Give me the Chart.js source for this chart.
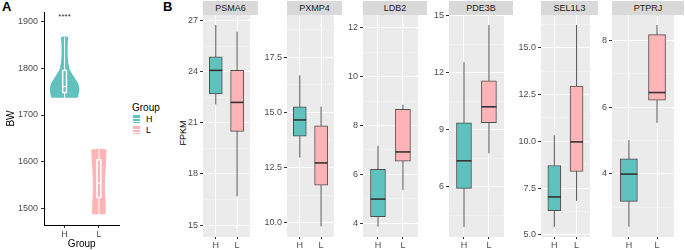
<!DOCTYPE html>
<html>
<head>
<meta charset="utf-8">
<script src="https://cdn.jsdelivr.net/npm/chart.js@4.4.0/dist/chart.umd.min.js"></script>
<style>
  body { margin: 0; width: 685px; height: 250px; position: relative; overflow: hidden; background: #fff;
         font-family: "Liberation Sans", Arial, sans-serif; }
  .abs { position: absolute; }
  .tag { font-weight: bold; font-size: 13px; line-height: 13px; color: #000; }
  .strip { background: #D9D9D9; color: #1A1A1A; font-size: 9px; text-align: center; line-height: 14px; top: 1px; height: 14px; }
</style>
</head>
<body>
<div class="abs tag" style="left:2px;top:0px;">A</div>
<div class="abs tag" style="left:163px;top:0px;">B</div>
<div class="abs" style="left:183px;top:133px;font-size:9px;color:#000;transform:translate(-50%,-50%) rotate(-90deg);">FPKM</div>

<!-- legend of panel A -->
<div class="abs" style="left:132px;top:102px;font-size:10px;line-height:12px;color:#000;">Group</div>
<div class="abs" id="keyH" style="left:133px;top:115px;width:7px;height:8px;"></div>
<div class="abs" style="left:146px;top:114px;font-size:9px;line-height:10px;color:#000;">H</div>
<div class="abs" id="keyL" style="left:133px;top:126px;width:7px;height:8px;"></div>
<div class="abs" style="left:146px;top:124.5px;font-size:9px;line-height:10px;color:#000;">L</div>

<canvas id="chartA" class="abs" style="left:0;top:0;" width="123" height="250"></canvas>

<script>
const groups = ["H", "L"];
const groupColors = ["#60C2BE", "#FFB5B8"];

// panel A : body weight violins
const bwTicks = [1500, 1600, 1700, 1800, 1900];
const violinH_y = [1737, 1740, 1745, 1752, 1760, 1768, 1775, 1783, 1790, 1797, 1805, 1815, 1830, 1845, 1855, 1867];
const violinH_w = [0.383, 0.40, 0.41, 0.425, 0.42, 0.39, 0.333, 0.264, 0.208, 0.153, 0.125, 0.105, 0.089, 0.089, 0.094, 0.097];
const violinL_y = [1487, 1495, 1510, 1530, 1555, 1580, 1600, 1615, 1626];
const violinL_w = [0.194, 0.20, 0.195, 0.18, 0.175, 0.19, 0.21, 0.215, 0.21];
const bwLo = [1737, 1487];
const bwQ1 = [1747, 1522];
const bwMed = [1761, 1554];
const bwQ3 = [1797, 1605];
const bwHi = [1867, 1626];
const sigText = "****";
const sigY = 1911;

// panel B : FPKM boxplots
const genes = ["PSMA6", "PXMP4", "LDB2", "PDE3B", "SEL1L3", "PTPRJ"];
const whiskerLo = [[22.08, 16.69], [12.95, 9.83], [3.86, 5.36], [3.89, 7.76], [5.43, 6.82], [2.41, 5.53]];
const boxQ1 = [[22.7, 20.5], [13.92, 11.7], [4.27, 6.54], [5.92, 9.37], [6.3, 8.39], [3.17, 6.21]];
const boxMed = [[24.08, 22.2], [14.66, 12.71], [4.99, 6.92], [7.37, 10.21], [7.03, 9.97], [3.99, 6.44]];
const boxQ3 = [[24.88, 24.08], [15.26, 14.39], [6.21, 8.66], [9.37, 11.58], [8.71, 12.95], [4.45, 8.18]];
const whiskerHi = [[26.75, 26.35], [16.68, 15.26], [7.17, 8.85], [12.56, 14.51], [10.33, 16.21], [5.01, 8.47]];
const outliers = [[[], [14.9]], [[17.9], [18.98]], [[], [12.12]], [[], []], [[], []], [[6.94], []]];
const yMin = [14.3, 9.35, 3.44, 3.36, 4.89, 2.1];
const yMax = [27.33, 19.42, 12.52, 15.04, 16.75, 8.77];
const yMajor = [[15, 18, 21, 24, 27], [10, 12.5, 15, 17.5], [4, 6, 8, 10, 12], [6, 9, 12, 15], [5, 7.5, 10, 12.5, 15], [4, 6, 8]];
const yTickLabels = [["15", "18", "21", "24", "27"], ["10.0", "12.5", "15.0", "17.5"], ["4", "6", "8", "10", "12"],
                     ["6", "9", "12", "15"], ["5.0", "7.5", "10.0", "12.5", "15.0"], ["4", "6", "8"]];
const yMinor = [[16.5, 19.5, 22.5, 25.5], [11.25, 13.75, 16.25, 18.75], [5, 7, 9, 11], [4.5, 7.5, 10.5, 13.5],
                [6.25, 8.75, 11.25, 13.75, 16.25], [3, 5, 7]];

// layout of the facets (pixels)
const panelLeft = [203, 287, 363, 449, 541, 612];
const panelWidth = [55, 55, 64, 64, 57, 72];

Chart.defaults.font.family = "'Liberation Sans', Arial, sans-serif";
Chart.defaults.animation = false;

document.getElementById("keyH").style.background =
  "linear-gradient(#60C2BE 0 3px, #fff 3px 4px, #60C2BE 4px 6px, #fff 6px 7px, #60C2BE 7px)";
document.getElementById("keyL").style.background =
  "linear-gradient(#FFB5B8 0 3px, #fff 3px 4px, #FFB5B8 4px 6px, #fff 6px 7px, #FFB5B8 7px)";

const panelBg = {
  id: "panelBg",
  beforeDraw(chart, args, opts) {
    if (!opts.color) return;
    const { ctx, chartArea: a } = chart;
    ctx.save();
    ctx.fillStyle = opts.color;
    ctx.fillRect(a.left, a.top, a.right - a.left, a.bottom - a.top);
    ctx.restore();
  },
};

const sigMark = {
  id: "sigMark",
  afterDatasetsDraw(chart) {
    const { ctx, scales } = chart;
    ctx.save();
    ctx.fillStyle = "#333";
    ctx.font = "8px 'Liberation Sans', Arial, sans-serif";
    ctx.textAlign = "center";
    ctx.textBaseline = "middle";
    ctx.fillText(sigText, scales.x.getPixelForValue(1), scales.y.getPixelForValue(sigY));
    ctx.restore();
  },
};

function violinPoints(cx, ys, ws) {
  const right = ys.map((y, k) => ({ x: cx + ws[k], y: y }));
  const left = ys.map((y, k) => ({ x: cx - ws[k], y: y })).reverse();
  return right.concat(left);
}

function whiskerPoints(lo, q1, q3, hi, split) {
  const pts = [];
  for (let g = 0; g < 2; g++) {
    pts.push({ x: g + 1, y: lo[g] }, { x: g + 1, y: split ? q1[g] : hi[g] });
    if (split) pts.push({ x: g + 1, y: null }, { x: g + 1, y: q3[g] }, { x: g + 1, y: hi[g] });
    pts.push({ x: 1.5, y: null });
  }
  return pts;
}

// ---------- panel A ----------
new Chart(document.getElementById("chartA"), {
  type: "bar",
  data: {
    datasets: [
      { type: "line", data: violinPoints(1, violinH_y, violinH_w), fill: "shape", backgroundColor: groupColors[0],
        borderColor: "rgba(0,0,0,0)", pointRadius: 0, tension: 0.25, order: 6 },
      { type: "line", data: violinPoints(2, violinL_y, violinL_w), fill: "shape", backgroundColor: groupColors[1],
        borderColor: "rgba(0,0,0,0)", pointRadius: 0, tension: 0.25, order: 6 },
      { type: "line", data: whiskerPoints(bwLo, bwQ1, bwQ3, bwHi, true), borderColor: "#fff", borderWidth: 1,
        pointRadius: 0, spanGaps: false, fill: false, order: 4 },
      { type: "bar", data: groups.map((g, k) => ({ x: k + 1, y: [bwQ1[k], bwQ3[k]] })), backgroundColor: "rgba(0,0,0,0)",
        borderColor: "#fff", borderWidth: 1, borderSkipped: false, barThickness: 5, order: 3 },
      { type: "scatter", data: groups.map((g, k) => ({ x: k + 1, y: bwMed[k] })), pointStyle: "line", pointRadius: 2.5,
        pointHoverRadius: 2.5, pointBorderColor: "#fff", pointBorderWidth: 1, order: 2 },
    ],
  },
  options: {
    responsive: false,
    devicePixelRatio: 1,
    layout: { padding: { top: 12, right: 0, left: 0, bottom: 0 } },
    plugins: { legend: { display: false }, tooltip: { enabled: false }, panelBg: { color: null } },
    scales: {
      x: {
        type: "linear", min: 0.4, max: 2.6, offset: false,
        afterBuildTicks: (s) => { s.ticks = [{ value: 1 }, { value: 2 }]; },
        afterFit: (s) => { s.height = 25; },
        ticks: { autoSkip: false, padding: 1, color: "#4D4D4D", font: { size: 9 }, callback: (v) => groups[v - 1] || "" },
        grid: { offset: false, drawOnChartArea: false, tickLength: 3, tickColor: "#333" },
        border: { display: true, color: "#000", width: 1 },
        title: { display: true, text: "Group", color: "#000", font: { size: 10 }, padding: { top: 0, bottom: 0 } },
      },
      y: {
        type: "linear", min: 1464, max: 1921,
        afterBuildTicks: (s) => { s.ticks = bwTicks.map((v) => ({ value: v })); },
        afterFit: (s) => { s.width = 44; },
        ticks: { autoSkip: false, padding: 3, color: "#4D4D4D", font: { size: 9 }, callback: (v) => String(v) },
        grid: { drawOnChartArea: false, tickLength: 3, tickColor: "#333" },
        border: { display: true, color: "#000", width: 1 },
        title: { display: true, text: "BW", color: "#000", font: { size: 10 }, padding: { top: 5, bottom: 0 } },
      },
    },
  },
  plugins: [panelBg, sigMark],
});

// ---------- panel B ----------
function makeFacet(i) {
  const axisW = 40;
  const cv = document.createElement("canvas");
  cv.className = "abs";
  cv.style.left = (panelLeft[i] - axisW) + "px";
  cv.style.top = "0px";
  cv.width = axisW + panelWidth[i];
  cv.height = 250;
  document.body.appendChild(cv);

  const strip = document.createElement("div");
  strip.className = "abs strip";
  strip.style.left = panelLeft[i] + "px";
  strip.style.width = panelWidth[i] + "px";
  strip.textContent = genes[i];
  document.body.appendChild(strip);

  const boxPx = Math.round(panelWidth[i] / 2.2 * 0.52);
  const isMajor = (c) => c.tick && yMajor[i].includes(c.tick.value);
  const outPts = [];
  outliers[i].forEach((vals, g) => vals.forEach((v) => outPts.push({ x: g + 1, y: v })));

  new Chart(cv, {
    type: "bar",
    data: {
      datasets: [
        { type: "line", data: whiskerPoints(whiskerLo[i], boxQ1[i], boxQ3[i], whiskerHi[i], false), borderColor: "#555",
          borderWidth: 1, pointRadius: 0, spanGaps: false, fill: false, order: 4 },
        { type: "bar", data: groups.map((g, k) => ({ x: k + 1, y: [boxQ1[i][k], boxQ3[i][k]] })), backgroundColor: groupColors,
          borderColor: "#4D4D4D", borderWidth: 1, borderSkipped: false, barThickness: boxPx, order: 3 },
        { type: "scatter", data: groups.map((g, k) => ({ x: k + 1, y: boxMed[i][k] })), pointStyle: "line",
          pointRadius: boxPx / 2, pointHoverRadius: boxPx / 2, pointBorderColor: "#333", pointBorderWidth: 1.6, order: 2 },
        { type: "scatter", data: outPts, pointRadius: 1.3, pointBackgroundColor: "#fff", pointBorderWidth: 0,
          pointBorderColor: "rgba(0,0,0,0)", order: 1 },
      ],
    },
    options: {
      responsive: false,
      devicePixelRatio: 1,
      layout: { padding: { top: 15, right: 0, left: 0, bottom: 0 } },
      plugins: { legend: { display: false }, tooltip: { enabled: false }, panelBg: { color: "#EBEBEB" } },
      scales: {
        x: {
          type: "linear", min: 0.4, max: 2.6, offset: false,
          afterBuildTicks: (s) => { s.ticks = [{ value: 1 }, { value: 2 }]; },
          afterFit: (s) => { s.height = 13; },
          ticks: { autoSkip: false, padding: 1, color: "#4D4D4D", font: { size: 9 }, callback: (v) => groups[v - 1] || "" },
          grid: { offset: false, color: "#fff", lineWidth: 1, tickLength: 2, tickColor: "#333" },
          border: { display: false },
        },
        y: {
          type: "linear", min: yMin[i], max: yMax[i],
          afterBuildTicks: (s) => {
            s.ticks = yMajor[i].concat(yMinor[i]).sort((a, b) => a - b).map((v) => ({ value: v }));
          },
          afterFit: (s) => { s.width = axisW; },
          ticks: {
            autoSkip: false, padding: 2, color: "#4D4D4D", font: { size: 9 },
            callback: (v) => { const k = yMajor[i].indexOf(v); return k < 0 ? "" : yTickLabels[i][k]; },
          },
          grid: {
            color: (c) => (isMajor(c) ? "#fff" : "rgba(255,255,255,0.55)"),
            lineWidth: (c) => (isMajor(c) ? 1 : 0.6),
            tickLength: 3,
            tickColor: (c) => (isMajor(c) ? "#333" : "rgba(0,0,0,0)"),
          },
          border: { display: false },
        },
      },
    },
    plugins: [panelBg],
  });
}

genes.forEach((g, i) => makeFacet(i));
</script>
</body>
</html>
